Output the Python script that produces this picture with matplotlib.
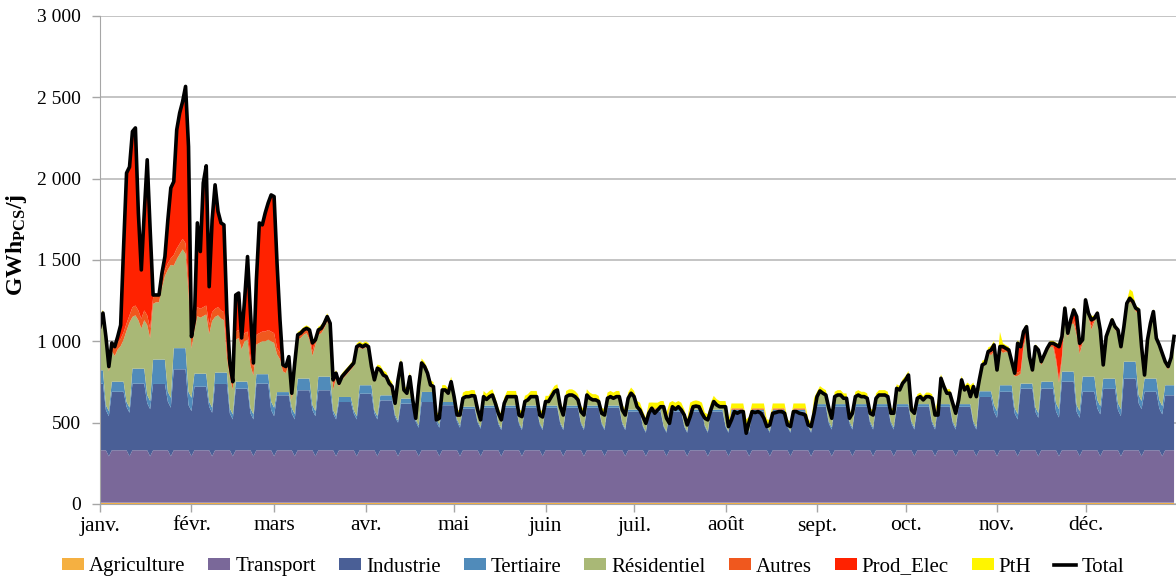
import matplotlib.pyplot as plt
import numpy as np
from matplotlib.patches import Patch
from matplotlib.lines import Line2D

plt.rcParams['font.family'] = ['Liberation Serif', 'DejaVu Serif']
plt.rcParams['mathtext.fontset'] = 'custom'
plt.rcParams['mathtext.rm'] = 'Liberation Serif'
plt.rcParams['mathtext.bf'] = 'Liberation Serif:bold'

# Consommation journalière de gaz 2015 (GWh PCS / j), 1er janvier = jeudi
months = ['janv.', 'févr.', 'mars', 'avr.', 'mai', 'juin',
          'juil.', 'août', 'sept.', 'oct.', 'nov.', 'déc.']
month_start = [0, 31, 59, 90, 120, 151, 181, 212, 243, 273, 304, 334]

total = [
    1090, 1174, 1029, 845, 990, 967, 1029, 1100, 1582, 2035,
    2072, 2290, 2312, 1790, 1439, 1790, 2116, 1685, 1285, 1285,
    1285, 1420, 1521, 1747, 1943, 1982, 2300, 2404, 2474, 2567,
    2197, 1029, 1132, 1728, 1552, 1974, 2079, 1336, 1747, 1962,
    1798, 1728, 1716, 1174, 867, 752, 1285, 1297, 1021, 1254,
    1521, 1174, 867, 1377, 1728, 1716, 1790, 1851, 1900, 1890,
    1480, 1132, 855, 845, 906, 681, 867, 1040, 1050, 1070,
    1080, 1070, 990,
    1009, 1070, 1080, 1111, 1152, 1111, 763, 804, 742, 783,
    804, 824, 845, 867, 967, 978, 967, 978, 967, 845,
    763, 835, 824, 793, 783, 742, 722, 619, 763, 867,
    701, 681, 783, 640, 527, 722, 867, 845, 804, 732,
    722, 517, 527, 701, 701, 681, 752, 660, 547, 547,
    650, 660, 660, 666, 664, 578, 517, 660, 643, 660,
    670, 619, 558, 517, 619, 660, 660, 660, 660, 547,
    537, 630, 640, 660, 660, 660, 547, 535, 630, 630,
    660, 691, 701, 598, 547, 660, 670, 670, 660, 640,
    568, 547, 670, 650, 640, 640, 630, 558, 547, 650,
    660, 650, 660, 660, 578, 547, 650, 681, 660, 598,
    578, 537, 496, 558, 589, 558, 578, 598, 598, 527,
    496, 598, 582, 598, 578, 547, 486, 537, 598, 602,
    598, 558, 527, 517, 578, 630, 609, 598, 598, 598,
    476, 517, 568, 558, 568, 568,
    435, 506, 568, 562, 568, 558, 527, 476, 486, 558,
    562, 568, 568, 558, 486, 476, 568, 568, 558, 554,
    547, 486, 476, 558, 660, 695, 681, 670, 589, 527,
    660, 670, 670, 650, 650, 527, 558, 660, 670, 660,
    660, 650, 558, 547, 650, 670, 670, 670, 660, 558,
    558, 711, 701, 742, 763, 793, 578, 558, 650, 660,
    640, 660, 660, 650, 547, 547, 773, 722, 681, 681,
    619, 558, 640, 763, 701, 722, 660, 722, 660, 763,
    855, 865, 937, 947, 978, 824, 968, 968, 957, 947,
    875, 804, 988, 967, 1060, 1090, 906, 824, 967, 947,
    875, 916, 957, 988, 988, 978, 967, 1029, 1204, 1050,
    1132, 1193, 1152, 988, 1009, 1255, 1173, 1132, 1142, 1173,
    1070, 855, 1029, 1080, 1132, 1090, 1070, 967, 1090, 1234,
    1265, 1245, 1204, 1193, 967, 793, 1009, 1111, 1183, 1019,
    978, 926, 875, 845, 900, 1030,
]

# weekly readings (weeks Mon-Sun, week 0 = 1-4 janvier), jours ouvrés / week-end
industrie_wd = [410, 360, 410, 408, 498, 391, 408, 379, 410, 338,
                369, 369, 297, 348, 307, 287, 297, 277, 256,
                262, 262, 262, 262, 262, 262, 262,
                238, 238, 238, 238, 238, 238, 238, 238, 238,
                268, 268, 268, 268, 268, 268, 268, 268,
                328, 360, 379, 379, 422, 360, 378, 441, 360, 338]
industrie_we = [247, 268, 290, 299, 278, 268, 227, 227, 247, 227,
                247, 227, 227, 227, 206, 176, 176, 176, 170,
                162, 162, 162, 162, 162, 162, 162,
                145, 145, 145, 145, 145, 145, 145, 145, 145,
                165, 165, 165, 165, 165, 165, 165, 165,
                237, 227, 237, 239, 237, 258, 247, 290, 258, 238]
tertiaire_wd = [82, 62, 92, 150, 130, 80, 70, 43, 58, 20,
                72, 84, 31, 52, 31, 31, 62, 20, 12,
                13, 13, 13, 13, 13, 13, 13,
                12, 12, 12, 12, 12, 12, 12, 12, 12,
                16, 16, 16, 16, 16, 16, 16, 16,
                35, 40, 31, 43, 62, 93, 63, 104, 81, 62]
tertiaire_we = [31, 31, 50, 61, 82, 31, 31, 31, 52, 33,
                31, 20, 20, 20, 14, 14, 19, 14, 10,
                10, 10, 10, 10, 10, 10, 10,
                8, 8, 8, 8, 8, 8, 8, 8, 8,
                13, 13, 13, 13, 13, 13, 13, 13,
                41, 33, 28, 51, 41, 51, 43, 50, 51, 50]
autres_wk = [30, 45, 60, 40, 65, 55, 50, 50, 60, 40,
             30, 30, 20, 15, 12, 12, 12, 12,
             8, 8, 8, 8, 8, 8, 8, 8, 8, 8, 8, 8, 8, 8, 8, 8, 8, 8, 8, 8, 8, 8, 8,
             10, 10, 12, 20, 18, 22, 25, 20, 18, 20, 18, 18]
pth_wk = [8, 5, 5, 5, 5, 5, 5, 5, 5, 8,
          18, 20, 20, 22, 28, 28, 28, 30,
          35, 35, 35, 35, 35, 35, 35, 35, 35, 35, 35, 35, 35,
          30, 30, 30, 30, 30, 30, 30, 30,
          25, 25, 25, 25, 25, 20,
          15, 15, 15, 15, 15, 15, 15, 15]
pth_peaks = {0: 60, 1: 20, 295: 70, 305: 90, 336: 25, 349: 55, 350: 60}

transport_wd = 322
transport_sun = 285
agriculture_level = 8

prod_elec_days = {
    0: 10, 1: 14, 2: 9, 4: 5, 5: 12, 6: 34, 7: 85, 8: 527, 9: 925,
    10: 912, 11: 1080, 12: 1092, 13: 600, 14: 300, 15: 600, 16: 956,
    17: 605, 18: 15, 19: 5, 20: 5, 21: 50, 22: 80, 23: 267, 24: 433,
    25: 452, 26: 730, 27: 804, 28: 844, 29: 964, 30: 837, 31: 9, 32: 12,
    33: 518, 34: 352, 35: 764, 36: 859, 37: 236, 38: 567, 39: 762,
    40: 588, 41: 538, 42: 536, 43: 224, 44: 37, 46: 225, 47: 227, 48: 21,
    49: 204, 50: 461, 51: 274, 52: 27, 53: 337, 54: 678, 55: 656,
    56: 730, 57: 781, 58: 840, 59: 840, 60: 520, 61: 202, 64: 6,
    71: 30, 72: 50, 79: 30, 99: 20, 302: 20, 303: 30, 306: 20,
    311: 180, 312: 150, 313: 80, 314: 30, 324: 80, 325: 200, 326: 120,
    327: 30, 330: 60, 331: 90, 332: 40, 336: 40,
}

colors = ['#F5B041', '#7A6899', '#4A5F96', '#508BBA', '#A9B876',
          '#F0581E', '#FF2200', '#FFF500']
names = ['Agriculture', 'Transport', 'Industrie', 'Tertiaire', 'Résidentiel',
         'Autres', 'Prod_Elec', 'PtH']

# daily series
days = np.arange(len(total))
week = (days + 3) // 7
dow = days % 7            # 0 = jeudi
weekend = np.isin(dow, [2, 3])
total = np.array(total, dtype=float)

agri = np.full(len(days), agriculture_level, dtype=float)
transport = np.where(dow == 3, transport_sun, transport_wd).astype(float)
industrie = np.where(weekend, np.array(industrie_we)[week], np.array(industrie_wd)[week])
tertiaire = np.where(weekend, np.array(tertiaire_we)[week], np.array(tertiaire_wd)[week])
autres = np.array(autres_wk, dtype=float)[week]
prod = np.array([prod_elec_days.get(d, 0) for d in days], dtype=float)
pth = np.array(pth_wk, dtype=float)[week]
for d, v in pth_peaks.items():
    pth[d] = v
residentiel = np.clip(total - agri - transport - industrie - tertiaire - autres - prod, 0, None)

fig = plt.figure(figsize=(11.76, 5.83), dpi=100)
ax = fig.add_axes([100 / 1176, 79 / 583, 1077 / 1176, 488 / 583])

ax.stackplot(days, agri, transport, industrie, tertiaire, residentiel, autres, prod, pth,
             colors=colors, linewidth=0)
ax.plot(days, total, color='black', lw=2.6)

ax.set_xlim(0, 365)
ax.set_ylim(0, 3000)
ax.set_yticks(np.arange(0, 3001, 500))
ax.set_yticklabels(['{:,}'.format(v).replace(',', ' ') for v in range(0, 3001, 500)])
ax.set_xticks(month_start)
ax.set_xticklabels(months)
ax.tick_params(axis='both', colors='#A6A6A6', labelcolor='black', length=6, width=1)
ax.tick_params(axis='y', labelsize=14, pad=8)
ax.tick_params(axis='x', labelsize=15.5, pad=3)
ax.yaxis.grid(True, color='#BFBFBF', lw=1.3)
ax.set_axisbelow(True)
for s in ['top', 'right']:
    ax.spines[s].set_visible(False)
for s in ['left', 'bottom']:
    ax.spines[s].set_color('#A6A6A6')

fig.text(17 / 1176, 1 - 245 / 583, r'$\mathbf{GWh_{PCS}/j}$', rotation=90,
         ha='center', va='center', fontsize=17)

handles = [Patch(facecolor=c, edgecolor='none') for c in colors]
handles.append(Line2D([0], [0], color='black', lw=2.6))
fig.legend(handles, names + ['Total'], loc='center', bbox_to_anchor=(593 / 1176, 16 / 583),
           ncol=9, frameon=False, fontsize=15, handlelength=1.05, handleheight=0.5,
           handletextpad=0.25, columnspacing=1.1)

fig.savefig('out.png', dpi=100)
